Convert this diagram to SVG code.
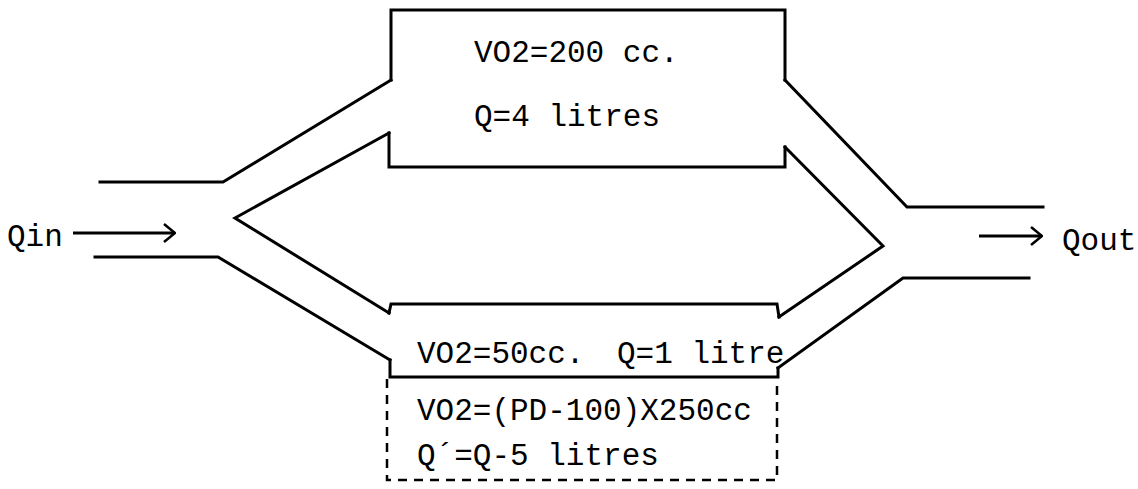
<svg xmlns="http://www.w3.org/2000/svg" width="1138" height="489" viewBox="0 0 1138 489">
<style>
.w{fill:none;stroke:#000;stroke-width:3;stroke-linejoin:miter;stroke-linecap:square}
.d{fill:none;stroke:#000;stroke-width:2.5;stroke-dasharray:9 7}
.t{font-family:"Liberation Mono","DejaVu Sans Mono",monospace;font-size:31px;fill:#000}
.a{fill:none;stroke:#000;stroke-width:3}
</style>
<defs>
<marker id="ah" viewBox="0 0 14 20" refX="13" refY="10" markerWidth="14" markerHeight="20" markerUnits="userSpaceOnUse" orient="auto">
<path d="M2,1 L13,10 L2,19" fill="none" stroke="#000" stroke-width="2.5"/>
</marker>
</defs>
<rect width="1138" height="489" fill="#fff"/>
<g id="connectors">
<path class="w" d="M100,182 L223,182 L391,80"/>
<path class="w" d="M785,80 L907,207 L1043,207"/>
<path class="w" d="M389,133 L235,218 L389,313"/>
<path class="w" d="M785,147 L883,246 L779,317"/>
<path class="w" d="M95,257 L218,257 L390,360"/>
<path class="w" d="M778,368 L903,278 L1029,278"/>
<line class="a" x1="73" y1="233" x2="175" y2="233" marker-end="url(#ah)"/>
<line class="a" x1="979" y1="236" x2="1042" y2="236" marker-end="url(#ah)"/>
</g>
<g id="top-box">
<path class="w" d="M391,80 L391,10 L785,10 L785,80"/>
<path class="w" d="M389,133 L389,167 L785,167 L785,147"/>
<text class="t" x="474" y="62">VO2=200 cc.</text>
<text class="t" x="474" y="126">Q=4 litres</text>
</g>
<g id="bottom-box">
<path class="w" d="M389,313 L391,304 L777,304 L779,317"/>
<path class="w" d="M390,360 L390,377 L778,377 L778,368"/>
<text class="t" x="417" y="363">VO2=50cc.</text>
<text class="t" x="617" y="363">Q=1 litre</text>
</g>
<g id="dashed-box">
<path class="d" d="M387,379 L387,480 L777,480 L777,379"/>
<text class="t" x="417" y="420">VO2=(PD-100)X250cc</text>
<text class="t" x="417" y="465">Q´=Q-5 litres</text>
</g>
<g id="qin">
<text class="t" x="7" y="246">Qin</text>
</g>
<g id="qout">
<text class="t" x="1062" y="250">Qout</text>
</g>
</svg>
